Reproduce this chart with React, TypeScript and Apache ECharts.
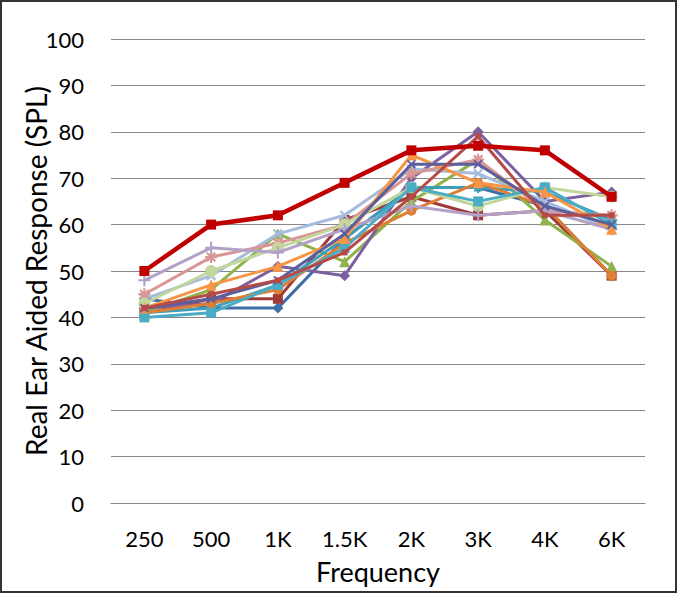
import React, { useEffect, useRef } from "react";
import * as echarts from "echarts";

const categories = ["250", "500", "1K", "1.5K", "2K", "3K", "4K", "6K"];

const blueDiamond = [44, 42, 42, 57, 68, 68, 64, 49];
const redSquare = [41, 44, 44, 61, 66, 62, 63, 49];
const greenTriangle = [41, 46, 58, 52, 65, 74, 61, 51];
const purpleDiamond = [42, 43, 51, 49, 70, 80, 65, 67];
const aquaStar = [41, 42, 47, 57, 68, 68, 67, 61];
const orangeCircle = [41, 43, 46, 56, 63, 69, 64, 49];
const lightBlueX = [44, 49, 58, 62, 72, 71, 65, 59];
const pinkStar = [45, 53, 56, 60, 71, 74, 63, 62];
const lightGreenCircle = [43, 50, 55, 60, 68, 64, 68, 66];
const lavenderPlus = [48, 55, 54, 59, 64, 62, 63, 59];
const aquaSquare = [40, 41, 47, 55, 68, 65, 68, 60];
const orangeTriangle = [42, 47, 51, 57, 75, 69, 67, 59];
const darkBlueX = [42, 44, 48, 58, 73, 73, 64, 60];
const redThin = [42, 45, 48, 54, 66, 79, 62, 62];
const target = [50, 60, 62, 69, 76, 77, 76, 66];

const yTicks = [0, 10, 20, 30, 40, 50, 60, 70, 80, 90, 100];

const PLUS = "path://M4.1,0H5.9V10H4.1Z M0,4.1H10V5.9H0Z";
const ASTER =
  "path://M4.1,0H5.9V10H4.1Z M0,4.1H10V5.9H0Z M2.1,0.82L9.18,7.9L7.9,9.18L0.82,2.1Z M9.18,2.1L2.1,9.18L0.82,7.9L7.9,0.82Z";

type S = { name: string; data: number[]; color: string; symbol: string; rot?: number; size?: number; width?: number };

const seriesDefs: S[] = [
  { name: "S1", data: blueDiamond, color: "#3F6FA8", symbol: "diamond", size: 11 },
  { name: "S2", data: redSquare, color: "#9E3B38", symbol: "rect", size: 10 },
  { name: "S3", data: greenTriangle, color: "#8FB24A", symbol: "triangle", size: 11 },
  { name: "S4", data: purpleDiamond, color: "#7D60A0", symbol: "diamond", size: 11 },
  { name: "S5", data: aquaStar, color: "#3E9DB8", symbol: ASTER, size: 11 },
  { name: "S6", data: orangeCircle, color: "#DE7F35", symbol: "circle", size: 10 },
  { name: "S7", data: lightBlueX, color: "#A5BCDE", symbol: PLUS, rot: 45, size: 12 },
  { name: "S8", data: pinkStar, color: "#D99694", symbol: ASTER, size: 12 },
  { name: "S9", data: lightGreenCircle, color: "#C3D69B", symbol: "circle", size: 12 },
  { name: "S10", data: lavenderPlus, color: "#B3A2C7", symbol: PLUS, size: 12 },
  { name: "S11", data: aquaSquare, color: "#4BACC6", symbol: "rect", size: 10 },
  { name: "S12", data: orangeTriangle, color: "#F79646", symbol: "triangle", size: 11 },
  { name: "S13", data: darkBlueX, color: "#5A5F9E", symbol: PLUS, rot: 45, size: 11 },
  { name: "S14", data: redThin, color: "#B54A47", symbol: "rect", size: 6 },
  { name: "Target", data: target, color: "#C00000", symbol: "rect", size: 10, width: 4.5 },
];

export default function App() {
  const ref = useRef<HTMLDivElement>(null);
  useEffect(() => {
    document.body.style.margin = "0";
    if (!ref.current) return;
    const chart = echarts.init(ref.current, null, { renderer: "svg" });
    const font = "Lato, 'Open Sans', sans-serif";
    chart.setOption({
      animation: false,
      backgroundColor: "#ffffff",
      textStyle: { fontFamily: font },
      grid: { left: 109, right: 30, top: 37, bottom: 88, containLabel: false, outerBoundsMode: "none" },
      xAxis: {
        type: "category",
        data: categories,
        boundaryGap: true,
        axisLine: { show: true, lineStyle: { color: "#888888", width: 1 } },
        axisTick: { show: false },
        axisLabel: { color: "#000", fontSize: 22, margin: 24, fontFamily: font },
        name: "Frequency",
        nameLocation: "middle",
        nameGap: 55,
        nameMoveOverlap: false,
        nameTextStyle: { color: "#000", fontSize: 27, fontFamily: font },
      },
      yAxis: {
        type: "value",
        min: yTicks[0],
        max: yTicks[yTicks.length - 1],
        interval: 10,
        axisLine: { show: false },
        axisTick: { show: false },
        splitLine: { show: true, lineStyle: { color: "#888888", width: 1 } },
        axisLabel: { color: "#000", fontSize: 22, margin: 27, fontFamily: font },
        name: "Real Ear Aided Response (SPL)",
        nameLocation: "middle",
        nameGap: 61,
        nameMoveOverlap: false,
        nameTextStyle: { color: "#000", fontSize: 28, fontFamily: font },
      },
      series: seriesDefs.map((s, i) => ({
        name: s.name,
        type: "line",
        data: s.data,
        symbol: s.symbol,
        symbolSize: s.size ?? 9,
        symbolRotate: s.rot ?? 0,
        showAllSymbol: true,
        z: 2 + i,
        lineStyle: { color: s.color, width: s.width ?? 3 },
        itemStyle: { color: s.color, borderWidth: 0 },
        emphasis: { disabled: true },
      })),
    });
    return () => chart.dispose();
  }, []);
  return (
    <div
      style={{
        width: 677,
        height: 593,
        boxSizing: "border-box",
        border: "2px solid #333333",
        background: "#fff",
      }}
    >
      <div ref={ref} style={{ width: 673, height: 589 }} />
    </div>
  );
}
